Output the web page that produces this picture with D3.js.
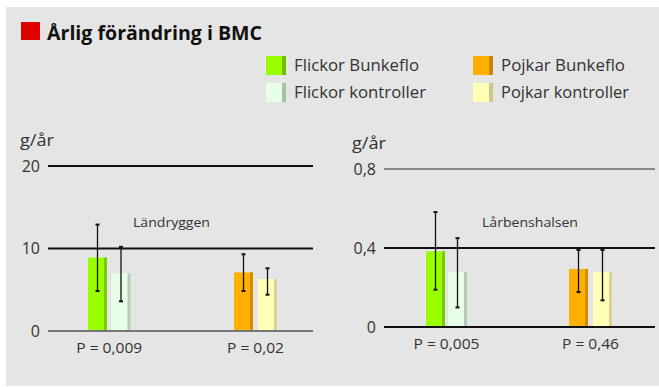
<!DOCTYPE html>
<html>
  <head>
    <meta charset="utf-8" />
    <script src="https://d3js.org/d3.v7.min.js"></script>
    <style>
      body { margin: 0; background: #fff; }
      text { font-family: "Open Sans", "Noto Sans", sans-serif; fill: #222; }
    </style>
  </head>
  <body>
    <script>
      // data
      const groups = ["Flickor", "Pojkar"];
      const seriesNames = ["Flickor Bunkeflo", "Flickor kontroller", "Pojkar Bunkeflo", "Pojkar kontroller"];
      const seriesColors = ["#99ff00", "#e6ffe6", "#ffb000", "#ffffb8"];
      const seriesEdge = ["#6fbf00", "#a9bfa9", "#c88600", "#c9c98e"];

      // Ländryggen (g/år)
      const spineValues = [8.9, 7.0, 7.1, 6.3];
      const spineLow = [4.85, 3.6, 4.85, 4.4];
      const spineHigh = [12.9, 10.2, 9.3, 7.6];
      const spineTicks = [0, 10, 20];
      const spineTickLabels = ["0", "10", "20"];
      const spineP = ["P = 0,009", "P = 0,02"];

      // Lårbenshalsen (g/år)
      const hipValues = [0.383, 0.278, 0.294, 0.278];
      const hipLow = [0.189, 0.099, 0.177, 0.135];
      const hipHigh = [0.582, 0.45, 0.39, 0.39];
      const hipTicks = [0, 0.4, 0.8];
      const hipTickLabels = ["0", "0,4", "0,8"];
      const hipP = ["P = 0,005", "P = 0,46"];

      const W = 659, H = 387;
      const svg = d3.select("body").append("svg").attr("width", W).attr("height", H);

      svg.append("rect").attr("x", 6).attr("y", 7).attr("width", W - 6).attr("height", H - 8).attr("fill", "#e5e5e5");

      // title
      svg.append("rect").attr("x", 21).attr("y", 22).attr("width", 19).attr("height", 18).attr("fill", "#e00000");
      svg.append("text").attr("x", 47).attr("y", 40)
        .attr("font-size", 20).attr("font-weight", "bold")
        .attr("textLength", 215).attr("lengthAdjust", "spacingAndGlyphs")
        .style("fill", "#111")
        .text("Årlig förändring i BMC");

      // legend
      const legendPos = [[266, 56], [266, 83], [473, 56], [473, 83]];
      const legendLen = [125, 132, 124, 128];
      seriesNames.forEach((name, i) => {
        const [lx, ly] = legendPos[i];
        swatch(svg, lx, ly, 20, 19, i);
        svg.append("text").attr("x", lx + 28).attr("y", ly + 15)
          .attr("font-size", 15.5).style("fill", "#333")
          .attr("textLength", legendLen[i]).attr("lengthAdjust", "spacingAndGlyphs")
          .text(name);
      });

      function swatch(g, x, y, w, h, i) {
        g.append("rect").attr("x", x).attr("y", y).attr("width", w).attr("height", h).attr("fill", seriesColors[i]);
        g.append("rect").attr("x", x + w - 4).attr("y", y).attr("width", 4).attr("height", h).attr("fill", seriesEdge[i]);
      }

      function panel(opt) {
        const y = d3.scaleLinear().domain([0, opt.max]).range([opt.y0, opt.yTop]);
        const g = svg.append("g");

        g.append("text").attr("x", opt.labelX).attr("y", opt.yTop - 20)
          .attr("font-size", 16).style("fill", "#333")
          .attr("textLength", 34).attr("lengthAdjust", "spacingAndGlyphs")
          .text("g/år");

        opt.ticks.forEach((t, i) => {
          g.append("line").attr("x1", opt.x0).attr("x2", opt.x1)
            .attr("y1", y(t)).attr("y2", y(t))
            .attr("stroke", opt.lineColors[i]).attr("stroke-width", 2);
          g.append("text").attr("x", opt.x0 - 8).attr("y", y(t) + 5.5)
            .attr("text-anchor", "end").attr("font-size", 16).style("fill", "#333")
            .text(opt.tickLabels[i]);
        });

        const xPos = i => opt.barStarts[i];
        const bw = 19;

        opt.values.forEach((v, i) => {
          const bx = xPos(i);
          g.append("rect").attr("x", bx).attr("y", y(v)).attr("width", bw).attr("height", y(0) - y(v) - 1)
            .attr("fill", seriesColors[i]);
          g.append("rect").attr("x", bx + bw - 3).attr("y", y(v)).attr("width", 3).attr("height", y(0) - y(v) - 1)
            .attr("fill", seriesEdge[i]).attr("opacity", 0.8);
          const cx = bx + bw / 2;
          g.append("line").attr("x1", cx).attr("x2", cx)
            .attr("y1", y(opt.high[i])).attr("y2", y(opt.low[i]))
            .attr("stroke", "#111").attr("stroke-width", 1.3);
          [opt.high[i], opt.low[i]].forEach(e => {
            g.append("line").attr("x1", cx - 2).attr("x2", cx + 2)
              .attr("y1", y(e)).attr("y2", y(e))
              .attr("stroke", "#111").attr("stroke-width", 2);
          });
        });

        // redraw zero line on top
        g.append("line").attr("x1", opt.x0).attr("x2", opt.x1)
          .attr("y1", y(0)).attr("y2", y(0))
          .attr("stroke", opt.lineColors[0]).attr("stroke-width", 2);

        g.append("text").attr("x", opt.nameX).attr("y", 227)
          .attr("font-size", 13).style("fill", "#333")
          .attr("textLength", opt.nameLen).attr("lengthAdjust", "spacingAndGlyphs")
          .text(opt.name);

        opt.p.forEach((p, j) => {
          const c = (xPos(j * 2) + xPos(j * 2 + 1) + bw) / 2;
          g.append("text").attr("x", c).attr("y", y(0) + 22)
            .attr("text-anchor", "middle").attr("font-size", 14.5).style("fill", "#333")
            .attr("textLength", opt.pLen[j]).attr("lengthAdjust", "spacingAndGlyphs")
            .text(p);
        });
      }

      panel({
        name: "Ländryggen", nameX: 133, nameLen: 77,
        values: spineValues, low: spineLow, high: spineHigh,
        ticks: spineTicks, tickLabels: spineTickLabels, p: spineP, pLen: [66, 57],
        max: 20, y0: 331, yTop: 166, x0: 48, x1: 313, labelX: 20,
        lineColors: ["#777", "#111", "#111"],
        barStarts: [88, 111.5, 234, 258]
      });

      panel({
        name: "Lårbenshalsen", nameX: 482, nameLen: 96,
        values: hipValues, low: hipLow, high: hipHigh,
        ticks: hipTicks, tickLabels: hipTickLabels, p: hipP, pLen: [66, 57],
        max: 0.8, y0: 327, yTop: 169, x0: 384, x1: 655, labelX: 352,
        lineColors: ["#111", "#111", "#888"],
        barStarts: [426, 448, 569, 593]
      });
    </script>
  </body>
</html>
